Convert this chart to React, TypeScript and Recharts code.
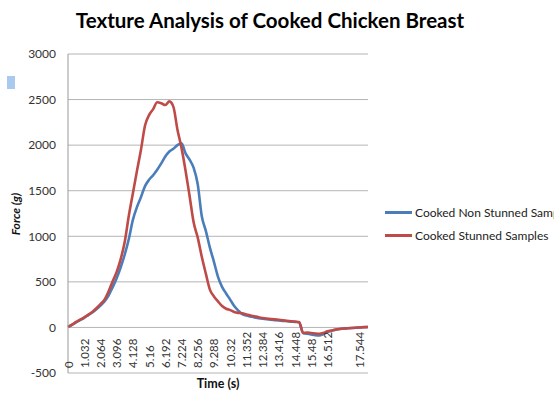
import React from 'react';
import { LineChart, Line, XAxis, YAxis, CartesianGrid } from 'recharts';

const BLUE = '#4a7ebb';
const RED = '#be4b48';
const GRID = '#b4b4b4';
const FONT = 'Lato, "Open Sans", sans-serif';

// time categories (s)
const TIMES = [
    '0', '0.258', '0.516', '0.774', '1.032', '1.29', '1.548', '1.806', '2.064', '2.322',
    '2.58', '2.838', '3.096', '3.354', '3.612', '3.87', '4.128', '4.386', '4.644', '4.902',
    '5.16', '5.418', '5.676', '5.934', '6.192', '6.45', '6.708', '6.966', '7.224', '7.482',
    '7.74', '7.998', '8.256', '8.514', '8.772', '9.03', '9.288', '9.546', '9.804', '10.062',
    '10.32', '10.578', '10.836', '11.094', '11.352', '11.61', '11.868', '12.126', '12.384', '12.642',
    '12.9', '13.158', '13.416', '13.674', '13.932', '14.19', '14.448', '14.706', '14.964', '15.222',
    '15.48', '15.738', '15.996', '16.254', '16.512', '16.641', '16.77', '16.899', '17.028', '17.157',
    '17.286', '17.415', '17.544', '17.673', '17.802',
];

const NON_STUNNED = [
    5, 28, 55, 80, 105, 135, 165, 200, 240, 285,
    350, 440, 540, 660, 800, 970, 1180, 1320, 1430, 1550,
    1620, 1670, 1730, 1800, 1875, 1930, 1960, 2000, 2020, 1910,
    1840, 1750, 1570, 1220, 1060, 875, 720, 555, 445, 373,
    305, 235, 185, 145, 130, 120, 110, 102, 95, 89,
    84, 80, 76, 72, 68, 64, 60, 56, -60, -70,
    -78, -85, -88, -72, -50, -36, -26, -18, -12, -9,
    -6, -3, 0, 2, 4,
];

const STUNNED = [
    5, 30, 60, 85, 110, 140, 170, 210, 255, 305,
    395, 505, 610, 750, 940, 1225, 1470, 1715, 1950, 2215,
    2330, 2395, 2470, 2460, 2440, 2480, 2420, 2170, 1970, 1720,
    1440, 1150, 985, 775, 590, 415, 340, 285, 235, 205,
    190, 170, 160, 155, 142, 132, 122, 112, 104, 98,
    93, 88, 84, 79, 73, 68, 64, 60, -62, -55,
    -62, -67, -70, -60, -42, -33, -24, -17, -12, -9,
    -6, -3, 0, 3, 5,
];

const TIME_TICKS = [
    '0', '1.032', '2.064', '3.096', '4.128', '5.16', '6.192', '7.224', '8.256',
    '9.288', '10.32', '11.352', '12.384', '13.416', '14.448', '15.48', '16.512', '17.544',
];

const FORCE_TICKS = [-500, 0, 500, 1000, 1500, 2000, 2500, 3000];

const SERIES = [
    { key: 'nonStunned', name: 'Cooked Non Stunned Samples', color: BLUE },
    { key: 'stunned', name: 'Cooked Stunned Samples', color: RED },
];

const data = TIMES.map((t, i) => ({ t, nonStunned: NON_STUNNED[i], stunned: STUNNED[i] }));

// rotated labels, bottom-aligned just above the -500 line (Excel axis crosses at 0)
function TimeTick({ x, y, payload }: any) {
    const ty = y - 13;
    return (
        <text x={x} y={ty} transform={`rotate(-90 ${x} ${ty})`} textAnchor="start" dominantBaseline="central"
            fontSize={11.5} fill="#333" fontFamily={FONT}>
            {payload.value}
        </text>
    );
}

function LegendBox() {
    return (
        <div style={{ position: 'absolute', left: 385, top: 201, fontFamily: FONT, fontSize: 12, color: '#222', whiteSpace: 'nowrap' }}>
            {SERIES.map((s) => (
                <div key={s.key} style={{ display: 'flex', alignItems: 'center', height: 23 }}>
                    <span style={{ display: 'inline-block', width: 27, height: 3, background: s.color, marginRight: 3 }} />
                    {s.name}
                </div>
            ))}
        </div>
    );
}

export default function App() {
    return (
        <div style={{ position: 'absolute', left: 0, top: 0, width: 554, height: 397, overflow: 'hidden', background: '#fff' }}>
            <div style={{ position: 'absolute', left: 0, width: 540, top: 8, textAlign: 'center', fontFamily: FONT, fontWeight: 700, fontSize: 20.5, color: '#000' }}>
                Texture Analysis of Cooked Chicken Breast
            </div>
            <div style={{ position: 'absolute', left: 7, top: 76, width: 8, height: 13, background: '#a9c9ef' }} />
            <div style={{ position: 'absolute', left: 15, top: 214, transform: 'translate(-50%, -50%) rotate(-90deg)', fontFamily: FONT, fontWeight: 700, fontStyle: 'italic', fontSize: 12, color: '#111', whiteSpace: 'nowrap' }}>
                Force (g)
            </div>
            <div style={{ position: 'absolute', left: 218, top: 383, transform: 'translate(-50%, -50%)', fontFamily: FONT, fontWeight: 700, fontSize: 12.5, color: '#111', whiteSpace: 'nowrap' }}>
                Time (s)
            </div>
            <LineChart width={554} height={397} data={data} margin={{ top: 54, right: 186, bottom: 0, left: 0 }}>
                <CartesianGrid vertical={false} stroke={GRID} strokeWidth={1} />
                <XAxis dataKey="t" type="category" ticks={TIME_TICKS} interval={0} tick={<TimeTick />}
                    axisLine={false} tickLine={false} height={24} />
                <YAxis type="number" domain={[-500, 3000]} ticks={FORCE_TICKS} width={68} interval={0}
                    axisLine={{ stroke: '#999' }} tickLine={false} tickSize={0} tickMargin={12}
                    tick={{ fontSize: 12, fill: '#333', fontFamily: FONT }} />
                {SERIES.map((s) => (
                    <Line key={s.key} type="monotone" dataKey={s.key} name={s.name} stroke={s.color}
                        strokeWidth={2.6} dot={false} isAnimationActive={false} />
                ))}
            </LineChart>
            <LegendBox />
        </div>
    );
}
